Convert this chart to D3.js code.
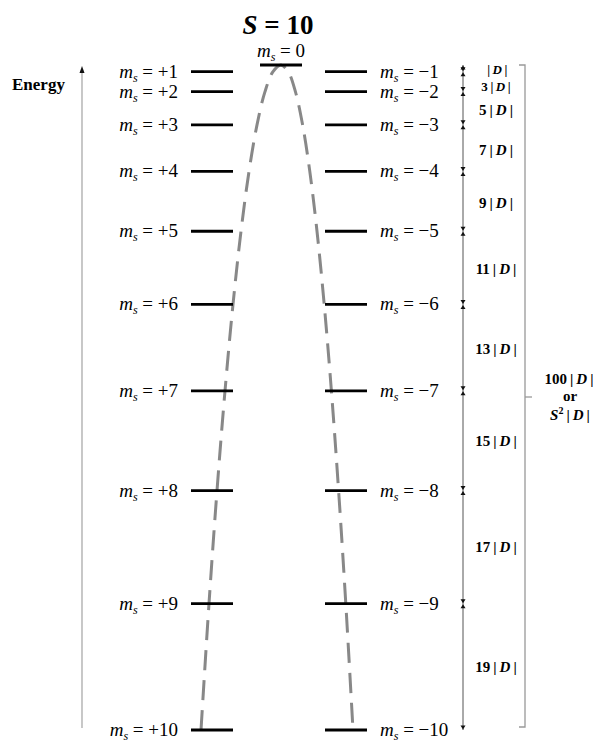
<!DOCTYPE html>
<html>
<head>
<meta charset="utf-8">
<script src="https://cdn.jsdelivr.net/npm/d3@7"></script>
<style>
  body { margin: 0; background: #fff; }
  svg { font-family: "Liberation Serif", "DejaVu Serif", serif; }
</style>
</head>
<body>
<svg id="svg1" width="593" height="740"></svg>
<script>
// levels of the S = 10 multiplet, energy in units of |D| (m = 0 on top)
var msValues = [0, 1, 2, 3, 4, 5, 6, 7, 8, 9, 10];
var levelEnergy = [0, 1, 4, 9, 16, 25, 36, 49, 64, 81, 100];
var gapLabels = ["", "3", "5", "7", "9", "11", "13", "15", "17", "19"];

var svg = d3.select('#svg1');

var y = d3.scaleLinear().domain([0, 100]).range([65, 730]);
// horizontal position of the dashed curve, by signed m
var xc = d3.scaleLinear().domain([10, 0, -10]).range([201, 281, 353]);

var levelW = 42;
var leftX = 191, rightX = 325, midX = 260;

// title
var title = svg.append('text')
    .attr('x', 278).attr('y', 34)
    .attr('text-anchor', 'middle')
    .style('font-size', '27px').style('font-weight', 'bold');
title.append('tspan').style('font-style', 'italic').text('S');
title.append('tspan').text(' = 10');

// energy axis
svg.append('line')
    .attr('x1', 82).attr('x2', 82)
    .attr('y1', 728).attr('y2', 72)
    .attr('stroke', '#aaa').attr('stroke-width', 1.3);
svg.append('path')
    .attr('d', 'M82,66 L79.5,73 L84.5,73 Z')
    .attr('fill', '#111');
svg.append('text')
    .attr('x', 12).attr('y', 90)
    .style('font-size', '17px').style('font-weight', 'bold')
    .text('Energy');

// dashed curve through the levels
var curvePts = [];
for (var i = msValues.length - 1; i > 0; i--) curvePts.push([xc(msValues[i]), y(levelEnergy[i])]);
curvePts.push([xc(0), y(0)]);
for (var i = 1; i < msValues.length; i++) curvePts.push([xc(-msValues[i]), y(levelEnergy[i])]);

svg.append('path')
    .attr('d', d3.line().curve(d3.curveCatmullRom.alpha(0.5))(curvePts))
    .attr('fill', 'none')
    .attr('stroke', '#888')
    .attr('stroke-width', 3)
    .attr('stroke-dasharray', '20,10');

function msLabel(sel, m, sign, anchor) {
    var t = sel.append('text')
        .attr('text-anchor', anchor)
        .style('font-size', '19px');
    t.append('tspan').style('font-style', 'italic').text('m');
    t.append('tspan').style('font-style', 'italic').style('font-size', '12px')
        .attr('dy', 4).text('s');
    t.append('tspan').attr('dy', -4).text(' = ' + (m === 0 ? '0' : sign + m));
    return t;
}

// levels
msValues.forEach(function(m, i) {
    var yy = y(levelEnergy[i]);
    if (m === 0) {
        svg.append('line')
            .attr('x1', midX).attr('x2', midX + levelW)
            .attr('y1', yy).attr('y2', yy)
            .attr('stroke', '#000').attr('stroke-width', 2.8);
        msLabel(svg, 0, '', 'middle').attr('x', 281).attr('y', 57);
        return;
    }
    svg.append('line')
        .attr('x1', leftX).attr('x2', leftX + levelW)
        .attr('y1', yy).attr('y2', yy)
        .attr('stroke', '#000').attr('stroke-width', 2.8);
    svg.append('line')
        .attr('x1', rightX).attr('x2', rightX + levelW)
        .attr('y1', yy).attr('y2', yy)
        .attr('stroke', '#000').attr('stroke-width', 2.8);
    msLabel(svg, m, '+', 'end').attr('x', 178).attr('y', yy + 6);
    msLabel(svg, m, '\u2212', 'start').attr('x', 380).attr('y', yy + 6);
});

// gap arrows
var gx = 463;
svg.append('line')
    .attr('x1', gx).attr('x2', gx)
    .attr('y1', y(0)).attr('y2', y(100))
    .attr('stroke', '#555').attr('stroke-width', 1);

levelEnergy.forEach(function(e, i) {
    var yy = y(e);
    if (i > 0) {
        // pointing down onto the level
        svg.append('path')
            .attr('d', 'M' + gx + ',' + (yy - 0.5) + ' l-2.5,-4 l5,0 Z')
            .attr('fill', '#111');
    }
    if (i < levelEnergy.length - 1) {
        // pointing up onto the level
        svg.append('path')
            .attr('d', 'M' + gx + ',' + (yy + 0.5) + ' l-2.5,4 l5,0 Z')
            .attr('fill', '#111');
    }
});

function absD(t, pre) {
    t.append('tspan').text(pre + '\u2009|\u2009');
    t.append('tspan').style('font-style', 'italic').text('D');
    t.append('tspan').text('\u2009|');
}

var labelNudge = [1.5, 5, 2, 2, 2, 1, 1, 0, 0, 0];
var labelSize = [13, 13, 15, 15, 15, 15, 15, 15, 15, 15];
gapLabels.forEach(function(g, i) {
    var ym = (y(levelEnergy[i]) + y(levelEnergy[i + 1])) / 2 + labelNudge[i];
    var t = svg.append('text')
        .attr('x', 496).attr('y', ym + labelSize[i] / 3)
        .attr('text-anchor', 'middle')
        .style('font-size', labelSize[i] + 'px').style('font-weight', 'bold');
    absD(t, g);
});

// bracket
svg.append('path')
    .attr('d', 'M519,' + y(0) + ' H525 V' + (y(100) - 3) + ' H519')
    .attr('fill', 'none')
    .attr('stroke', '#999').attr('stroke-width', 1.3);
svg.append('line')
    .attr('x1', 525).attr('x2', 532)
    .attr('y1', 397).attr('y2', 397)
    .attr('stroke', '#999').attr('stroke-width', 1.3);

var tot = svg.append('g')
    .style('font-size', '15px').style('font-weight', 'bold')
    .attr('text-anchor', 'middle');
var t0 = tot.append('text').attr('x', 569).attr('y', 384);
absD(t0, '100');
tot.append('text').attr('x', 570).attr('y', 401).text('or');
var t2 = tot.append('text').attr('x', 570).attr('y', 420);
t2.append('tspan').style('font-style', 'italic').text('S');
t2.append('tspan').style('font-size', '10px').attr('dy', -6).text('2');
t2.append('tspan').attr('dy', 6).text('\u2009|\u2009');
t2.append('tspan').style('font-style', 'italic').text('D');
t2.append('tspan').text('\u2009|');
</script>
</body>
</html>
